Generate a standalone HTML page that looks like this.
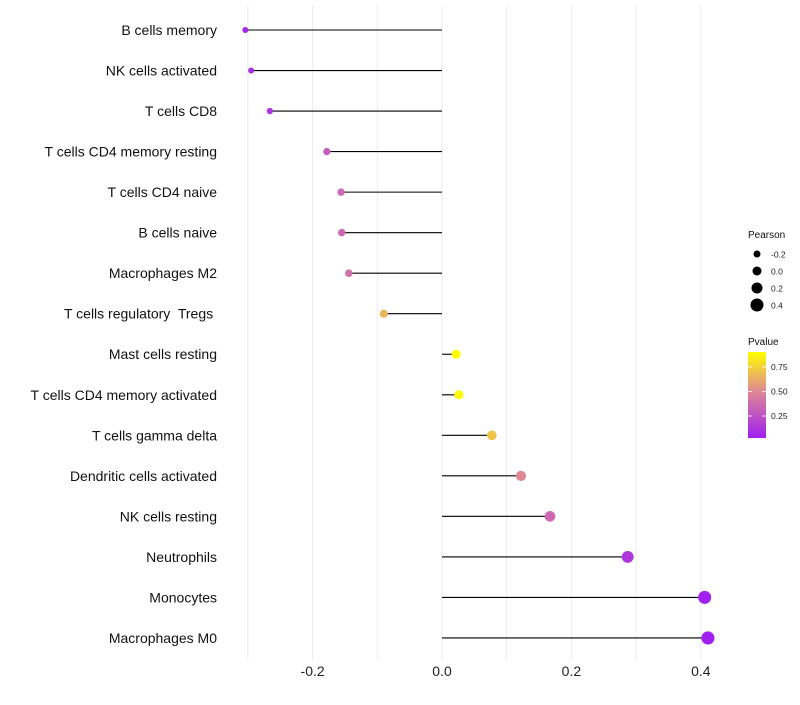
<!DOCTYPE html>
<html><head><meta charset="utf-8"><style>body{margin:0;background:#fff;font-family:"Liberation Sans",sans-serif} text{white-space:pre}</style></head>
<body>
<svg id="c" width="800" height="700" xmlns="http://www.w3.org/2000/svg" style="font-family:'Liberation Sans',sans-serif"></svg>
<script>
const cells=["B cells memory","NK cells activated","T cells CD8","T cells CD4 memory resting","T cells CD4 naive","B cells naive","Macrophages M2","T cells regulatory  Tregs ","Mast cells resting","T cells CD4 memory activated","T cells gamma delta","Dendritic cells activated","NK cells resting","Neutrophils","Monocytes","Macrophages M0"];
const pearson=[-0.304,-0.295,-0.266,-0.178,-0.156,-0.155,-0.144,-0.090,0.022,0.026,0.077,0.122,0.167,0.287,0.406,0.411];
const pvalue=[0.05,0.1,0.12,0.3,0.36,0.36,0.4,0.65,0.9,0.88,0.7,0.5,0.36,0.13,0.04,0.03];
const xTicks=[-0.2,0.0,0.2,0.4];
const xMinor=[-0.3,-0.1,0.1,0.3];
const sizeLegend=[-0.2,0.0,0.2,0.4];
const colorTicks=[0.25,0.50,0.75];
const NS="http://www.w3.org/2000/svg",svg=document.getElementById('c');
const X=v=>442+v*647, Y=i=>30+i*40.53, R=v=>Math.max(2,4.5+5*v);
const PY=p=>440.5-p*98;
function col(p){const s=[[0.03,[160,32,240]],[0.5,[222,136,150]],[0.9,[255,255,0]]];
 if(p<=s[0][0])return `rgb(${s[0][1]})`;if(p>=s[2][0])return `rgb(${s[2][1]})`;
 let a=p<s[1][0]?s[0]:s[1],b=p<s[1][0]?s[1]:s[2],t=(p-a[0])/(b[0]-a[0]);
 return `rgb(${a[1].map((c,k)=>Math.round(c+(b[1][k]-c)*t)).join(',')})`;}
function el(t,a,txt){const e=document.createElementNS(NS,t);for(const k in a)e.setAttribute(k,a[k]);if(txt!==undefined)e.textContent=txt;svg.appendChild(e);return e;}
xTicks.concat(xMinor).forEach(v=>{const g=el('line',{x1:X(v),x2:X(v),y1:5,y2:660,stroke:'#ebebeb','stroke-width':1});
});
xTicks.forEach(v=>{const t=el('text',{x:X(v),y:676,'text-anchor':'middle','font-size':14,fill:'#222'},v.toFixed(1));
});
cells.forEach((c,i)=>{const y=Y(i);
 const t=el('text',{x:217,y:y+5,'text-anchor':'end','font-size':14,fill:'#111'},c);
 
 const l=el('line',{x1:X(0),x2:X(pearson[i]),y1:y,y2:y,stroke:'#000','stroke-width':1.1});
 
 const p=el('circle',{cx:X(pearson[i]),cy:y,r:R(pearson[i]),fill:col(pvalue[i])});
 });
let t=el('text',{x:748,y:238,'font-size':10,fill:'#111'},'Pearson');

sizeLegend.forEach((v,i)=>{const y=254+i*17;
 const c=el('circle',{cx:757,cy:y,r:R(v),fill:'#000'});
 const tx=el('text',{x:771,y:y+3.5,'font-size':8.5,fill:'#222'},v.toFixed(1));});
t=el('text',{x:748,y:345,'font-size':10,fill:'#111'},'Pvalue');

const defs=el('defs',{});const lg=document.createElementNS(NS,'linearGradient');lg.setAttribute('id','g');lg.setAttribute('x1',0);lg.setAttribute('y1',1);lg.setAttribute('x2',0);lg.setAttribute('y2',0);defs.appendChild(lg);
[0.03,0.25,0.5,0.75,0.9].forEach(p=>{const s=document.createElementNS(NS,'stop');s.setAttribute('offset',(p-0.03)/0.87);s.setAttribute('stop-color',col(p));lg.appendChild(s);});
const bar=el('rect',{x:748,y:352,width:18,height:86,fill:'url(#g)'});
colorTicks.forEach(p=>{const y=PY(p);el('line',{x1:748,x2:752,y1:y,y2:y,stroke:'#fff','stroke-width':0.8});el('line',{x1:762,x2:766,y1:y,y2:y,stroke:'#fff','stroke-width':0.8});
 const tx=el('text',{x:771,y:y+3,'font-size':8.5,fill:'#222'},p.toFixed(2));});
</script>
</body></html>
